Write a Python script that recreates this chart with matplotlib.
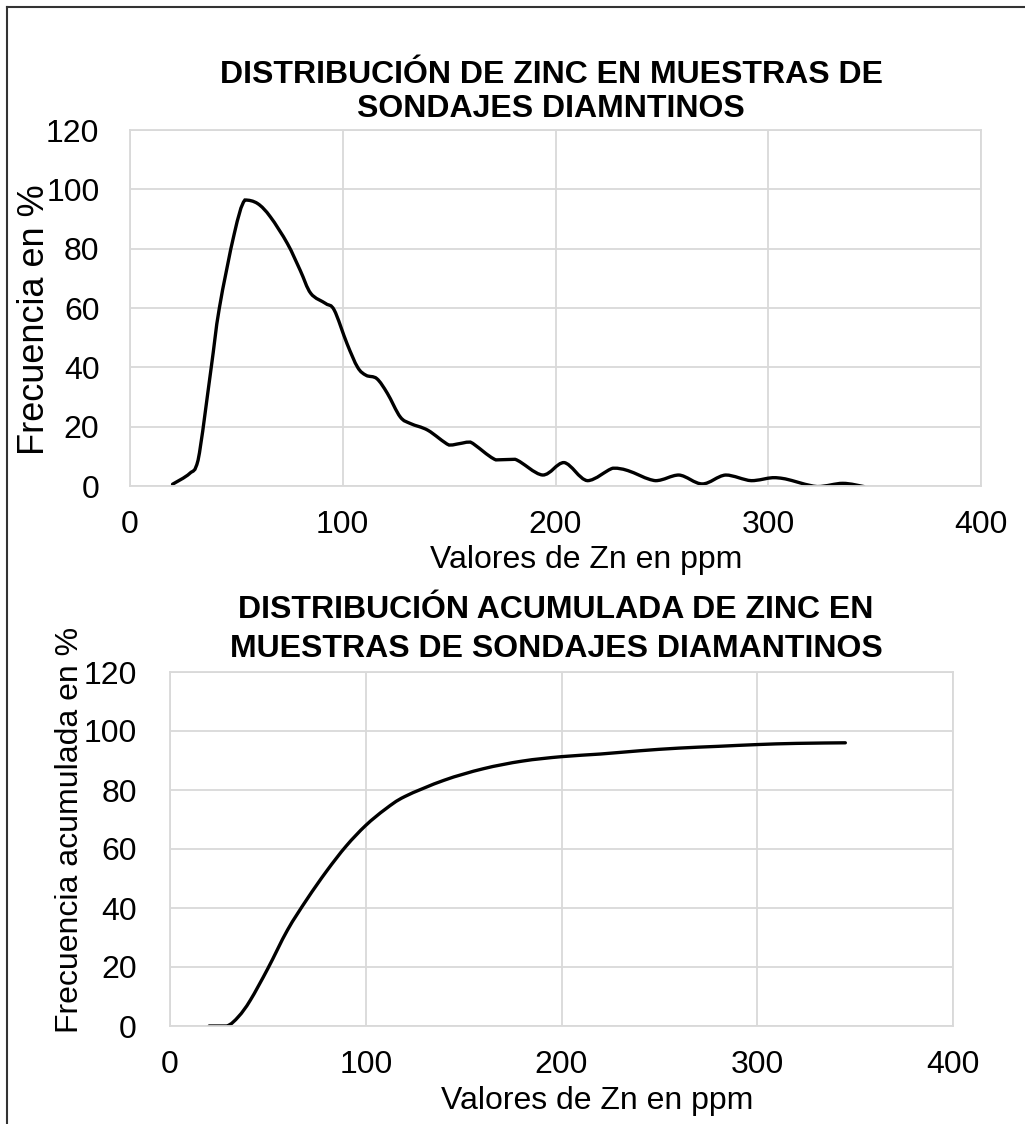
import matplotlib
matplotlib.use('Agg')
import matplotlib.pyplot as plt
from matplotlib.path import Path
from matplotlib.patches import PathPatch
from matplotlib.lines import Line2D
import numpy as np

plt.rcParams['font.family'] = ['Liberation Sans', 'DejaVu Sans']

# Frequency of Zn values (ppm vs %)
zn_freq_x = [20, 28, 32, 38, 42, 49, 54, 60, 66, 74, 80, 85, 92, 96, 102, 107,
             111, 116, 121, 127, 132, 140, 150, 155, 160, 172, 181, 194, 204,
             215, 227, 234, 247, 258, 269, 280, 292, 302, 308, 323, 335, 345]
zn_freq_y = [0.6, 4.2, 8.7, 39, 60, 85, 96.4, 95.2, 90.7, 81.7, 72.7, 64.9,
             61.5, 59.3, 48, 40, 37.3, 36.2, 31.2, 23.3, 21, 18.8, 13.8, 14.3,
             14.8, 8.8, 9, 3.7, 7.9, 1.8, 6, 5.2, 1.8, 3.7, 0.7, 3.7, 1.8, 2.8,
             2.4, -0.2, 0.9, -0.2]

# Cumulative frequency
zn_cum_x = [20, 29, 35, 41, 50, 60, 70, 80, 90, 100, 110, 120, 140, 160, 180,
            200, 220, 240, 260, 280, 300, 320, 345]
zn_cum_y = [0, 0, 3.2, 8.7, 19.5, 32.5, 43, 52.5, 61, 68, 73.5, 77.8, 83.3,
            87.2, 89.8, 91.3, 92.2, 93.3, 94.2, 94.8, 95.4, 95.8, 96]

x_ticks = [0, 100, 200, 300, 400]
y_ticks = [0, 20, 40, 60, 80, 100, 120]

W, H = 1025, 1124
GRID = '#d9d9d9'


def fx(px):
    return px / W


def fy(py):
    return 1 - py / H


def smooth_path(xs, ys):
    # Catmull-Rom through the points as cubic Bezier segments; control
    # points are held inside each segment's y range so it never overshoots
    pts = np.column_stack([xs, ys]).astype(float)
    verts = [pts[0]]
    codes = [Path.MOVETO]
    n = len(pts)
    for i in range(n - 1):
        p0 = pts[i - 1] if i > 0 else pts[i]
        p1 = pts[i]
        p2 = pts[i + 1]
        p3 = pts[i + 2] if i + 2 < n else pts[i + 1]
        c1 = p1 + (p2 - p0) / 6.0
        c2 = p2 - (p3 - p1) / 6.0
        lo, hi = min(p1[1], p2[1]), max(p1[1], p2[1])
        c1[1] = np.clip(c1[1], lo, hi)
        c2[1] = np.clip(c2[1], lo, hi)
        verts += [c1, c2, p2]
        codes += [Path.CURVE4] * 3
    return Path(verts, codes)


def style_axes(ax, ytick_pad, xtick_pad):
    ax.set_xlim(0, 400)
    ax.set_ylim(0, 120)
    ax.set_xticks(x_ticks)
    ax.set_yticks(y_ticks)
    ax.grid(True, color=GRID, linewidth=1.3)
    ax.set_axisbelow(True)
    for s in ax.spines.values():
        s.set_color(GRID)
        s.set_linewidth(1.3)
    ax.tick_params(axis='both', length=0, labelsize=23, colors='black')
    ax.tick_params(axis='y', pad=ytick_pad)
    ax.tick_params(axis='x', pad=xtick_pad)


fig = plt.figure(figsize=(W / 100, H / 100), dpi=100)

# top chart: frequency
ax1 = fig.add_axes([fx(130), fy(486), 851 / W, 356 / H])
style_axes(ax1, 22, 17)
ax1.add_patch(PathPatch(smooth_path(zn_freq_x, zn_freq_y), fill=False,
                        edgecolor='black', linewidth=2.4, capstyle='round'))

# bottom chart: cumulative
ax2 = fig.add_axes([fx(170), fy(1026), 783 / W, 354 / H])
style_axes(ax2, 24, 17)
ax2.add_patch(PathPatch(smooth_path(zn_cum_x, zn_cum_y), fill=False,
                        edgecolor='black', linewidth=2.4, capstyle='round'))

# axis titles
fig.text(fx(586), fy(568), 'Valores de Zn en ppm', ha='center', va='baseline', fontsize=23)
fig.text(fx(597), fy(1109), 'Valores de Zn en ppm', ha='center', va='baseline', fontsize=23)
fig.text(fx(35), fy(320), 'Frecuencia en %', ha='center', va='center',
         rotation=90, fontsize=26)
fig.text(fx(70), fy(830), 'Frecuencia acumulada en %', ha='center', va='center',
         rotation=90, fontsize=23)

# chart titles, one line at a time
title_kw = dict(ha='center', va='center', fontsize=23, fontweight='bold')
fig.text(fx(551), fy(75), 'DISTRIBUCIÓN DE ZINC EN MUESTRAS DE', **title_kw)
fig.text(fx(551), fy(109), 'SONDAJES DIAMNTINOS', **title_kw)
fig.text(fx(556), fy(610), 'DISTRIBUCIÓN ACUMULADA DE ZINC EN', **title_kw)
fig.text(fx(556), fy(649), 'MUESTRAS DE SONDAJES DIAMANTINOS', **title_kw)

# page frame (top and left edges)
fig.add_artist(Line2D([fx(7), 1], [fy(7), fy(7)], color='#333333',
                      linewidth=1.5, transform=fig.transFigure))
fig.add_artist(Line2D([fx(7), fx(7)], [0, fy(7)], color='#333333',
                      linewidth=1.5, transform=fig.transFigure))

fig.savefig('out.png', dpi=100)
